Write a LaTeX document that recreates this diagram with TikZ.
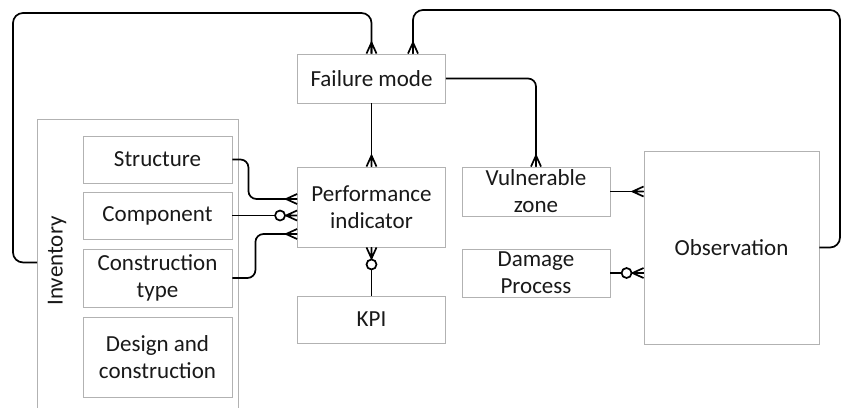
\documentclass[tikz,border=0pt]{standalone}
\usepackage{fontspec}
\setmainfont{Carlito}
\begin{document}
\begin{tikzpicture}[x=1pt,y=-1pt,
  box/.style={draw=black!30, line width=0.9pt, fill=white, inner sep=0pt, align=center,
    text=black!90, font=\fontsize{23}{27}\selectfont},
  conn/.style={draw=black, line width=1.7pt},
  crow/.pic={\draw[conn] (-11pt,0) -- (0,0) (0,5pt) -- (-11pt,0) -- (0,-5pt);},
  ocrow/.pic={\draw[conn] (-11pt,0) -- (0,0) (0,5pt) -- (-11pt,0) -- (0,-5pt);
              \draw[conn,fill=white] (-17pt,0) circle (5pt);}
]
\useasboundingbox (0,0) rectangle (845,407);
\clip (0,0) rectangle (845,407);
\fill[white] (0,0) rectangle (845,407);

% inventory container
\node[box, minimum width=201pt, minimum height=300pt, anchor=north west] (inv) at (37,119) {};
\node[rotate=90, text=black!90, font=\fontsize{23}{27}\selectfont] (invt) at (57,261) {Inventory};

\node[box, minimum width=149pt, minimum height=47pt] (str) at (157.5,159.5) {Structure};
\node[box, minimum width=149pt, minimum height=47pt] (comp) at (157.5,215.5) {Component};
\node[box, minimum width=149pt, minimum height=58pt] (ct) at (157.5,278) {Construction\\type};
\node[box, minimum width=149pt, minimum height=80pt] (dc) at (157.5,357) {Design and\\construction};

\node[box, minimum width=148pt, minimum height=49pt] (fm) at (371.5,78.5) {Failure mode};
\node[box, minimum width=148pt, minimum height=80pt] (pi) at (371.5,207) {Performance\\indicator};
\node[box, minimum width=148pt, minimum height=47pt] (kpi) at (371.5,319.5) {KPI};

\node[box, minimum width=148pt, minimum height=49pt] (vz) at (536,191.5) {Vulnerable\\zone};
\node[box, minimum width=148pt, minimum height=48pt] (dp) at (536,273) {Damage\\Process};
\node[box, minimum width=175pt, minimum height=193pt] (obs) at (731.5,247.5) {Observation};

% connectors
\draw[conn, rounded corners=10pt] ([yshift=7pt]inv.west) -| (13,13) -| (fm.north);
\draw[conn, rounded corners=10pt] (obs.east) -| (840,10) -| ([xshift=41.5pt]fm.north);
\draw[conn, rounded corners=8pt] (fm.east) -| (vz.north);
\draw[conn] (fm.south) -- (pi.north);
\draw[conn, rounded corners=8pt] (str.east) -- ++(16,0) |- ([yshift=8pt]pi.west);
\draw[conn] (comp.east) -- (comp.east -| pi.west);
\draw[conn, rounded corners=8pt] (ct.east) -- ++(23,0) |- ([yshift=-27pt]pi.west);
\draw[conn] (pi.south) -- (kpi.north);
\draw[conn] (vz.east) -- (vz.east -| obs.west);
\draw[conn] (dp.east) -- (dp.east -| obs.west);

% ends
\path (fm.north) pic[rotate=-90] {crow};
\path ([xshift=41.5pt]fm.north) pic[rotate=-90] {crow};
\path (vz.north) pic[rotate=-90] {crow};
\path (pi.north) pic[rotate=-90] {crow};
\path ([yshift=8pt]pi.west) pic {crow};
\path (comp.east -| pi.west) pic {ocrow};
\path ([yshift=-27pt]pi.west) pic {crow};
\path (pi.south) pic[rotate=90] {ocrow};
\path (vz.east -| obs.west) pic {crow};
\path (dp.east -| obs.west) pic {ocrow};
\end{tikzpicture}
\end{document}
